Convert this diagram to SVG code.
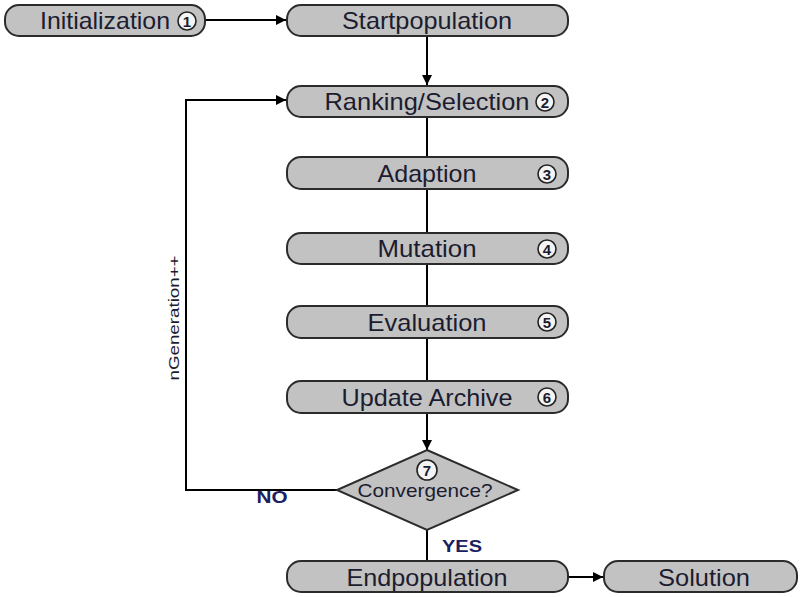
<svg xmlns="http://www.w3.org/2000/svg" width="803" height="597" viewBox="0 0 803 597">
  <style>
    .box { fill: #c2c2c2; stroke: #2b2b2b; stroke-width: 2; }
    .lbl { font-family: "Liberation Sans", Arial, sans-serif; font-size: 24px; fill: #1c1c30; text-anchor: middle; }
    .badge { fill: #f4f4f4; stroke: #222; stroke-width: 1.6; }
    .num { font-family: "Liberation Sans", Arial, sans-serif; font-size: 15px; font-weight: bold; fill: #1c1c30; text-anchor: middle; }
    .small { font-family: "Liberation Sans", Arial, sans-serif; font-size: 19px; fill: #1c1c30; text-anchor: middle; }
    .tag { font-family: "Liberation Sans", Arial, sans-serif; font-size: 16px; font-weight: bold; fill: #1a2060; text-anchor: middle; }
    .wire { fill: none; stroke: #000; stroke-width: 2; }
  </style>
  <defs>
    <marker id="arrow" viewBox="0 0 10 10" refX="10" refY="5" markerWidth="6" markerHeight="5" orient="auto" markerUnits="strokeWidth">
      <path d="M0,0 L10,5 L0,10 z" fill="#000"/>
    </marker>
  </defs>

  <rect width="803" height="597" fill="#fff"/>

  <g id="connectors">
    <line class="wire" x1="205" y1="20" x2="286" y2="20" marker-end="url(#arrow)"/>
    <line class="wire" x1="427" y1="30" x2="427" y2="85" marker-end="url(#arrow)"/>
    <line class="wire" x1="427" y1="117" x2="427" y2="157"/>
    <line class="wire" x1="427" y1="185" x2="427" y2="233"/>
    <line class="wire" x1="427" y1="264" x2="427" y2="306"/>
    <line class="wire" x1="427" y1="338" x2="427" y2="381"/>
    <line class="wire" x1="427" y1="413" x2="427" y2="450" marker-end="url(#arrow)"/>
    <line class="wire" x1="427" y1="530" x2="427" y2="561"/>
    <polyline class="wire" points="337,490 186,490 186,100 286,100" marker-end="url(#arrow)"/>
    <line class="wire" x1="568" y1="577" x2="603" y2="577" marker-end="url(#arrow)"/>
    <text class="tag" x="272" y="503" textLength="31" lengthAdjust="spacingAndGlyphs">NO</text>
    <text class="tag" x="462" y="552" textLength="40" lengthAdjust="spacingAndGlyphs">YES</text>
    <text x="0" y="0" transform="translate(179,318) rotate(-90)" style="font-family:'Liberation Sans',Arial,sans-serif;font-size:15px;fill:#1c1c30;text-anchor:middle" textLength="125" lengthAdjust="spacingAndGlyphs">nGeneration++</text>
  </g>

  <g id="initialization">
    <rect class="box" x="5" y="5" width="200" height="31" rx="14"/>
    <text class="lbl" x="105" y="28.5" textLength="130" lengthAdjust="spacingAndGlyphs">Initialization</text>
    <circle class="badge" cx="187" cy="21" r="9"/>
    <text class="num" x="187" y="26.5">1</text>
  </g>

  <g id="startpopulation">
    <rect class="box" x="287" y="5" width="281" height="31" rx="14"/>
    <text class="lbl" x="427" y="28.5" textLength="170" lengthAdjust="spacingAndGlyphs">Startpopulation</text>
  </g>

  <g id="ranking">
    <rect class="box" x="287" y="86" width="281" height="31" rx="14"/>
    <text class="lbl" x="427" y="110" textLength="205" lengthAdjust="spacingAndGlyphs">Ranking/Selection</text>
    <circle class="badge" cx="545" cy="102" r="9"/>
    <text class="num" x="545" y="107.5">2</text>
  </g>

  <g id="adaption">
    <rect class="box" x="287" y="157" width="281" height="32" rx="14"/>
    <text class="lbl" x="427" y="181.5" textLength="99" lengthAdjust="spacingAndGlyphs">Adaption</text>
    <circle class="badge" cx="547" cy="174" r="9"/>
    <text class="num" x="547" y="179.5">3</text>
  </g>

  <g id="mutation">
    <rect class="box" x="287" y="233" width="281" height="31" rx="14"/>
    <text class="lbl" x="427" y="256.5" textLength="99" lengthAdjust="spacingAndGlyphs">Mutation</text>
    <circle class="badge" cx="547" cy="249" r="9"/>
    <text class="num" x="547" y="254.5">4</text>
  </g>

  <g id="evaluation">
    <rect class="box" x="287" y="306" width="281" height="32" rx="14"/>
    <text class="lbl" x="427" y="330.5" textLength="119" lengthAdjust="spacingAndGlyphs">Evaluation</text>
    <circle class="badge" cx="547" cy="322" r="9"/>
    <text class="num" x="547" y="327.5">5</text>
  </g>

  <g id="update-archive">
    <rect class="box" x="287" y="381" width="281" height="32" rx="14"/>
    <text class="lbl" x="427" y="405.5" textLength="171" lengthAdjust="spacingAndGlyphs">Update Archive</text>
    <circle class="badge" cx="547" cy="397" r="9"/>
    <text class="num" x="547" y="402.5">6</text>
  </g>

  <g id="convergence">
    <polygon class="box" points="427,450 518,490 427,530 337,490"/>
    <circle class="badge" cx="427" cy="470" r="10"/>
    <text class="num" x="427" y="475.5">7</text>
    <text class="small" x="425" y="497" textLength="135" lengthAdjust="spacingAndGlyphs">Convergence?</text>
  </g>

  <g id="endpopulation">
    <rect class="box" x="287" y="561" width="281" height="31" rx="14"/>
    <text class="lbl" x="427" y="585.5" textLength="161" lengthAdjust="spacingAndGlyphs">Endpopulation</text>
  </g>

  <g id="solution">
    <rect class="box" x="604" y="561" width="193" height="31" rx="14"/>
    <text class="lbl" x="704" y="585.5" textLength="92" lengthAdjust="spacingAndGlyphs">Solution</text>
  </g>
</svg>
